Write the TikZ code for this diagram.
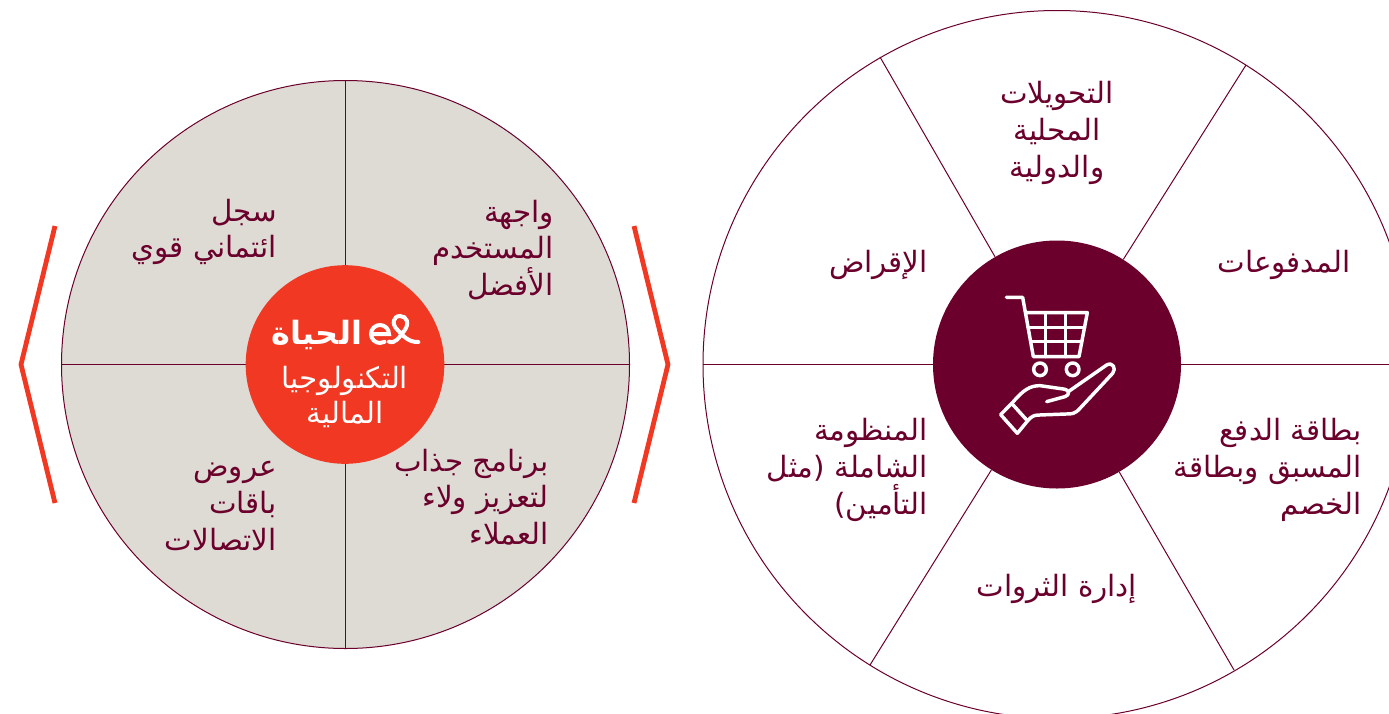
\documentclass[tikz,border=0pt]{standalone}
\usepackage{fontspec}
\TeXXeTstate=1
\newfontfamily\arabicfont[Script=Arabic]{DejaVu Sans}
\definecolor{wine}{HTML}{6A002B}
\definecolor{flame}{HTML}{F03823}
\definecolor{stone}{HTML}{DEDBD5}
\newcommand{\arline}[1]{\beginR #1\endR}
\tikzset{
	ringline/.style = {draw=wine, line width=0.75pt},
	label/.style = {text=wine, inner sep=0pt, font=\arabicfont\fontsize{22}{27.5}\selectfont},
	flamelabel/.style = {text=white, inner sep=0pt, align=center, font=\arabicfont\fontsize{22}{26}\selectfont},
	iconline/.style = {draw=white, line width=2.6pt, line cap=round, line join=round},
	markline/.style = {draw=white, line width=3pt, line cap=round},
	bracket/.style = {draw=flame, line width=3.6pt}
}

\begin{document}
\begin{tikzpicture}[x=0.75pt, y=-0.75pt]
	\useasboundingbox (0, 0) rectangle (1389, 714);

	% left disc
	\node[circle, ringline, fill=stone, minimum size=426pt, inner sep=0pt] (disc) at (345.5, 364.5) {};
	\draw[ringline] (disc.north) -- (disc.south);
	\draw[ringline] (disc.west) -- (disc.east);
	\node[circle, fill=flame, minimum size=149pt, inner sep=0pt] (flamehub) at (345, 364.5) {};

	\coordinate (leftTop) at (55, 226);
	\coordinate (leftTip) at (21, 364.5);
	\coordinate (leftEnd) at (55, 503);
	\coordinate (rightTop) at (634, 226);
	\coordinate (rightTip) at (668, 364.5);
	\coordinate (rightEnd) at (634, 503);
	\draw[bracket] (leftTop) -- (leftTip) -- (leftEnd);
	\draw[bracket] (rightTop) -- (rightTip) -- (rightEnd);

	\node[label, align=right, anchor=east] (ui) at (554, 250) {\arline{واجهة}\\\arline{المستخدم}\\\arline{الأفضل}};
	\node[label, align=right, anchor=east] (credit) at (277, 232) {\arline{سجل}\\\arline{ائتماني قوي}};
	\node[label, align=right, anchor=east] (loyalty) at (549, 497) {\arline{برنامج جذاب}\\\arline{لتعزيز ولاء}\\\arline{العملاء}};
	\node[label, align=right, anchor=east] (offers) at (277, 506) {\arline{عروض}\\\arline{باقات}\\\arline{الاتصالات}};

	\node[flamelabel] (fintech) at (345, 397) {\arline{التكنولوجيا}\\\arline{المالية}};
	\node[text=white, inner sep=0pt, font=\arabicfont\bfseries\fontsize{24}{24}\selectfont] (hayah) at (317, 335) {\arline{الحياة}};

	% e& mark
	\begin{scope}[shift={(365, 310)}, scale=0.3333]
		\draw[markline] (20, 72) -- (72, 72) arc (0:-300:27 and 27);
		\draw[markline] (72, 95) .. controls (92, 102) and (102, 82) .. (118, 62) .. controls (135, 40) and (125, 18) .. (105, 18) .. controls (85, 18) and (78, 42) .. (98, 60) .. controls (115, 78) and (130, 97) .. (160, 96);
	\end{scope}

	% right wheel
	\node[circle, ringline, minimum size=531pt, inner sep=0pt] (wheel) at (1057, 364.5) {};
	\node[circle, fill=wine, minimum size=186pt, inner sep=0pt] (hub) at (1057, 364.5) {};
	\coordinate (spokeA) at (1246, 65);
	\coordinate (spokeB) at (880, 57);
	\coordinate (spokeC) at (870, 665);
	\coordinate (spokeD) at (1234, 670);
	\draw[ringline] (hub) -- (spokeA);
	\draw[ringline] (hub) -- (spokeB);
	\draw[ringline] (hub) -- (spokeC);
	\draw[ringline] (hub) -- (spokeD);
	\draw[ringline] (hub) -- (wheel.west);
	\draw[ringline] (hub) -- (wheel.east);

	\node[label, align=center] (transfers) at (1057, 133) {\arline{التحويلات}\\\arline{المحلية}\\\arline{والدولية}};
	\node[label] (payments) at (1284, 265) {\arline{المدفوعات}};
	\node[label, align=right, anchor=east] (cards) at (1362, 470) {\arline{بطاقة الدفع}\\\arline{المسبق وبطاقة}\\\arline{الخصم}};
	\node[label] (wealth) at (1057, 589) {\arline{إدارة الثروات}};
	\node[label, align=right, anchor=east] (system) at (928, 470) {\arline{المنظومة}\\\arline{الشاملة (مثل}\\\arline{التأمين)}};
	\node[label, anchor=east] (lending) at (928, 265) {\arline{الإقراض}};

	% cart and hand
	\begin{scope}[shift={(930, 240)}, scale=0.3333]
		\draw[iconline] (229, 172) -- (278, 172) -- (310, 350) -- (447, 350) -- (472, 218) -- (287, 218);
		\draw[iconline] (347, 218) -- (347, 350);
		\draw[iconline] (406, 218) -- (406, 350);
		\draw[iconline] (294, 262) -- (464, 262);
		\draw[iconline] (302, 305) -- (456, 305);
		\draw[iconline] (330, 388) circle (19);
		\draw[iconline] (428, 388) circle (19);
		\draw[iconline] (262, 580) -- (212, 524) -- (250, 485) .. controls (280, 450) and (300, 437) .. (330, 437) -- (400, 447) .. controls (420, 450) and (420, 465) .. (405, 470) -- (350, 485);
		\draw[iconline] (415, 455) -- (530, 375) .. controls (548, 365) and (560, 385) .. (548, 400) -- (450, 505) .. controls (435, 522) and (425, 522) .. (410, 522) -- (330, 525) .. controls (310, 525) and (305, 530) .. (295, 540) -- (262, 580);
		\draw[iconline] (245, 490) -- (290, 540);
	\end{scope}
\end{tikzpicture}
\end{document}
